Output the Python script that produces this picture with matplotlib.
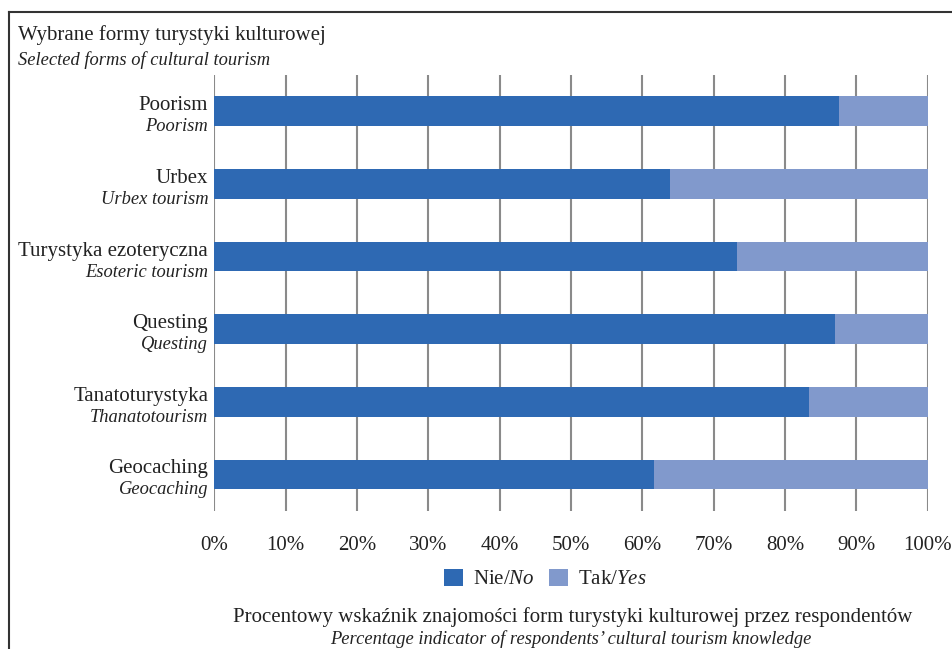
import matplotlib
matplotlib.use("Agg")
import matplotlib.pyplot as plt
from matplotlib.patches import Patch
from matplotlib.lines import Line2D

plt.rcParams['font.family'] = ['Liberation Serif', 'DejaVu Serif']
plt.rcParams['mathtext.fontset'] = 'custom'
plt.rcParams['mathtext.rm'] = 'Liberation Serif'
plt.rcParams['mathtext.it'] = 'Liberation Serif:italic'

categories_pl = ["Poorism", "Urbex", "Turystyka ezoteryczna", "Questing",
                 "Tanatoturystyka", "Geocaching"]
categories_en = ["Poorism", "Urbex tourism", "Esoteric tourism", "Questing",
                 "Thanatotourism", "Geocaching"]
no_values = [87.6, 63.9, 73.3, 87.0, 83.4, 61.6]
yes_values = [100 - v for v in no_values]
xticks = [0, 10, 20, 30, 40, 50, 60, 70, 80, 90, 100]
xtick_labels = [f"{t}%" for t in xticks]

c_no = "#2E69B3"
c_yes = "#8199CC"
tc = "#222222"
fs = 15
fsi = 13.3

W, H = 953, 649
fig = plt.figure(figsize=(W / 100, H / 100), dpi=100)
ax = fig.add_axes([214.2 / W, 1 - 510.7 / H, (927.7 - 214.2) / W, (510.7 - 75) / H])

ypos = list(range(len(categories_pl)))
ax.barh(ypos, no_values, height=0.41, color=c_no, zorder=3)
ax.barh(ypos, yes_values, left=no_values, height=0.41, color=c_yes, zorder=3)

ax.set_xlim(0, 100)
ax.set_ylim(len(categories_pl) - 0.5, -0.5)
ax.set_xticks(xticks)
ax.set_xticklabels(xtick_labels, fontsize=fs, color=tc)
ax.tick_params(axis='x', length=0, pad=18)
ax.set_yticks([])
for s in ax.spines.values():
    s.set_visible(False)
ax.grid(axis='x', color='#8a8a8a', linewidth=1.5, zorder=0)
ax.set_axisbelow(True)

for i, (pl, en) in enumerate(zip(categories_pl, categories_en)):
    ax.annotate(pl, xy=(0, i), xycoords=('axes fraction', 'data'),
                xytext=(-6, 1), textcoords='offset pixels',
                ha='right', va='baseline', fontsize=fs, color=tc)
    ax.annotate(en, xy=(0, i), xycoords=('axes fraction', 'data'),
                xytext=(-6, -20), textcoords='offset pixels',
                ha='right', va='baseline', fontsize=fsi, color=tc, style='italic')

# titles
fig.text(18 / W, 1 - 40 / H, "Wybrane formy turystyki kulturowej",
         fontsize=fs, color=tc, ha='left', va='baseline')
fig.text(18 / W, 1 - 65 / H, "Selected forms of cultural tourism",
         fontsize=fsi, color=tc, ha='left', va='baseline', style='italic')
fig.text(572.8 / W, 1 - 621.7 / H,
         "Procentowy wskaźnik znajomości form turystyki kulturowej przez respondentów",
         fontsize=fs, color=tc, ha='center', va='baseline')
fig.text(570.9 / W, 1 - 644.5 / H,
         "Percentage indicator of respondents’ cultural tourism knowledge",
         fontsize=fsi, color=tc, ha='center', va='baseline', style='italic')

handles = [Patch(facecolor=c_no, edgecolor='none'), Patch(facecolor=c_yes, edgecolor='none')]
labels = [r"Nie/$\mathit{No}$", r"Tak/$\mathit{Yes}$"]
fig.legend(handles, labels, loc='center', bbox_to_anchor=(545.3 / W, 1 - 579 / H),
           ncol=2, frameon=False, fontsize=fs, handlelength=0.9, handleheight=0.9,
           handletextpad=0.48, columnspacing=0.7, labelcolor=tc,
           borderpad=0, borderaxespad=0)

# frame lines (top and left)
fig.add_artist(Line2D([9 / W, 1.0], [1 - 12 / H, 1 - 12 / H],
                      transform=fig.transFigure, color='#333333', linewidth=1.5))
fig.add_artist(Line2D([9 / W, 9 / W], [0, 1 - 12 / H],
                      transform=fig.transFigure, color='#333333', linewidth=1.5))

fig.savefig("out.png", dpi=100)
